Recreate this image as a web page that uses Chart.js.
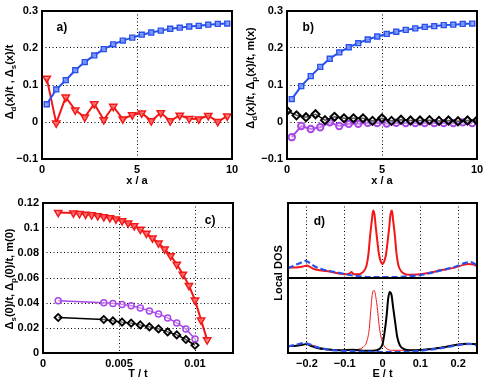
<!DOCTYPE html>
<html lang="en">
<head>
<meta charset="UTF-8">
<title>Gap profiles and local DOS</title>
<script src="https://cdn.jsdelivr.net/npm/chart.js"></script>
<style>
  body { margin: 0; background: #fff; }
  #fig { position: relative; width: 488px; height: 383px; overflow: hidden; }
  canvas { position: absolute; }
</style>
</head>
<body>
<div id="fig">
  <canvas id="pa" width="244" height="190" style="left:0;top:0"></canvas>
  <canvas id="pb" width="244" height="190" style="left:244px;top:0"></canvas>
  <canvas id="pc" width="244" height="193" style="left:0;top:190px"></canvas>
  <canvas id="pdTop" width="244" height="193" style="left:244px;top:190px"></canvas>
  <canvas id="pdBot" width="244" height="105" style="left:244px;top:278px"></canvas>
</div>
<script>
// ---- data: panels a) and b), x / a
const xHalf = [0.25, 0.75, 1.25, 1.75, 2.25, 2.75, 3.25, 3.75, 4.25, 4.75, 5.25, 5.75, 6.25, 6.75, 7.25, 7.75, 8.25, 8.75, 9.25, 9.75];
const xWhole = [0, 0.5, 1, 1.5, 2, 2.5, 3, 3.5, 4, 4.5, 5, 5.5, 6, 6.5, 7, 7.5, 8, 8.5, 9, 9.5, 10];
const aDeltaD = [0.048, 0.088, 0.113, 0.140, 0.162, 0.180, 0.197, 0.210, 0.220, 0.228, 0.236, 0.242, 0.247, 0.252, 0.255, 0.258, 0.260, 0.263, 0.265, 0.266];
const aDeltaS = [0.118, -0.003, 0.067, 0.032, 0.013, 0.049, 0.006, 0.042, 0.008, 0.019, 0.024, 0.003, 0.025, 0.003, 0.018, 0.009, 0.008, 0.017, 0.001, 0.016];
const bDeltaD = [0.062, 0.097, 0.124, 0.149, 0.171, 0.188, 0.202, 0.213, 0.223, 0.231, 0.238, 0.244, 0.249, 0.253, 0.257, 0.259, 0.262, 0.263, 0.265, 0.266];
const bDeltaP = [-0.041, -0.011, -0.019, -0.014, -0.001, -0.011, -0.005, -0.005, -0.002, -0.003, -0.004, -0.002, -0.003, -0.003, -0.003, -0.003, -0.003, -0.003, -0.001, -0.003];
const bMag = [0.030, 0.018, 0.013, 0.021, 0.005, 0.014, 0.010, 0.010, 0.010, 0.003, 0.010, 0.003, 0.006, 0.004, 0.004, 0.005, 0.003, 0.004, 0.002, 0.004, 0.004];
const xTicksAB = [0, 5, 10];
const yTicksAB = [-0.1, 0, 0.1, 0.2, 0.3];

// ---- data: panel c), T / t
const cTempS = [0.001, 0.002, 0.0024, 0.0028, 0.0032, 0.0036, 0.004, 0.0044, 0.0048, 0.0052, 0.0056, 0.006, 0.0064, 0.0068, 0.0072, 0.0076, 0.008, 0.0084, 0.0088, 0.0092, 0.0096, 0.01, 0.0104, 0.0108];
const cDeltaS = [0.1124, 0.1120, 0.1115, 0.1110, 0.1105, 0.1098, 0.1090, 0.1082, 0.1072, 0.1058, 0.1040, 0.1018, 0.0990, 0.0958, 0.0920, 0.0880, 0.0832, 0.0778, 0.0710, 0.0630, 0.0540, 0.0423, 0.0263, 0.0105];
const cTempPM = [0.001, 0.004, 0.0046, 0.0052, 0.0058, 0.0064, 0.0070, 0.0076, 0.0082, 0.0088, 0.0094, 0.0100];
const cDeltaP = [0.0418, 0.0402, 0.0397, 0.0389, 0.0378, 0.0361, 0.0337, 0.0313, 0.0281, 0.0241, 0.0193, 0.0112];
const cMag = [0.0284, 0.0268, 0.0257, 0.0247, 0.0239, 0.0225, 0.0209, 0.0193, 0.0169, 0.0145, 0.0108, 0.0062];
const xTicksC = [0, 0.005, 0.01];
const yTicksC = [0, 0.02, 0.04, 0.06, 0.08, 0.1, 0.12];

// ---- data: panel d), E / t (arbitrary DOS units)
const dTopRedE = [-0.25, -0.228, -0.211, -0.2, -0.193, -0.184, -0.166, -0.149, -0.131, -0.113, -0.1, -0.088, -0.082, -0.076, -0.065, -0.056, -0.049, -0.042, -0.037, -0.033, -0.028, -0.025, -0.021, -0.018, -0.013, -0.009, -0.004, 0, 0.004, 0.009, 0.013, 0.018, 0.021, 0.025, 0.028, 0.033, 0.037, 0.042, 0.049, 0.057, 0.068, 0.081, 0.1, 0.117, 0.135, 0.152, 0.17, 0.188, 0.202, 0.214, 0.227, 0.241, 0.25];
const dTopRed = [0.139, 0.139, 0.152, 0.166, 0.152, 0.126, 0.103, 0.094, 0.076, 0.058, 0.049, 0.058, 0.081, 0.049, 0.049, 0.063, 0.094, 0.170, 0.327, 0.552, 0.776, 0.901, 0.843, 0.686, 0.462, 0.305, 0.215, 0.184, 0.215, 0.305, 0.462, 0.686, 0.843, 0.901, 0.776, 0.552, 0.327, 0.170, 0.094, 0.058, 0.045, 0.045, 0.049, 0.063, 0.081, 0.103, 0.117, 0.135, 0.157, 0.175, 0.188, 0.179, 0.157];
const dTopBlueE = [-0.25, -0.233, -0.215, -0.204, -0.193, -0.18, -0.162, -0.14, -0.113, -0.087, -0.06, -0.025, 0, 0.037, 0.064, 0.1, 0.135, 0.17, 0.196, 0.219, 0.232, 0.245, 0.25];
const dTopBlue = [0.130, 0.166, 0.206, 0.229, 0.202, 0.157, 0.121, 0.094, 0.067, 0.040, 0.022, 0.013, 0.013, 0.013, 0.022, 0.040, 0.076, 0.121, 0.157, 0.202, 0.211, 0.184, 0.157];
const dBotBlackE = [-0.25, -0.228, -0.211, -0.2, -0.191, -0.175, -0.149, -0.113, -0.078, -0.051, -0.025, -0.007, 0, 0.005, 0.011, 0.015, 0.019, 0.024, 0.028, 0.034, 0.039, 0.046, 0.057, 0.073, 0.1, 0.135, 0.17, 0.196, 0.223, 0.241, 0.25];
const dBotBlack = [0.089, 0.098, 0.111, 0.120, 0.098, 0.071, 0.049, 0.036, 0.044, 0.031, 0.031, 0.058, 0.116, 0.258, 0.502, 0.724, 0.813, 0.769, 0.613, 0.391, 0.213, 0.102, 0.053, 0.036, 0.040, 0.058, 0.084, 0.111, 0.124, 0.120, 0.116];
const dBotRedE = [-0.25, -0.2, -0.15, -0.1, -0.065, -0.051, -0.042, -0.035, -0.031, -0.027, -0.022, -0.018, -0.013, -0.009, -0.004, 0.002, 0.011, 0.024, 0.05, 0.1, 0.15, 0.2, 0.25];
const dBotRed = [0.085, 0.115, 0.050, 0.035, 0.049, 0.080, 0.147, 0.324, 0.569, 0.782, 0.836, 0.756, 0.569, 0.369, 0.213, 0.116, 0.058, 0.036, 0.036, 0.040, 0.070, 0.110, 0.115];
const dBotBlueE = [-0.25, -0.228, -0.206, -0.193, -0.175, -0.149, -0.113, -0.078, -0.042, 0, 0.046, 0.081, 0.117, 0.152, 0.188, 0.214, 0.232, 0.25];
const dBotBlue = [0.089, 0.111, 0.133, 0.116, 0.080, 0.049, 0.031, 0.022, 0.018, 0.013, 0.013, 0.022, 0.040, 0.062, 0.093, 0.116, 0.120, 0.102];
const xTicksD = [-0.2, -0.1, 0, 0.1, 0.2];

const FONT = "'Liberation Sans', Arial, sans-serif";
const tickFont = { family: FONT, size: 11, weight: 'bold' };
const RED = '#f21818', BLUE = '#2850ec', PURPLE = '#a846e6', BLACK = '#000';
Chart.defaults.font.family = FONT;

function fmt(v) { return String(+v.toFixed(4)).replace('-', '\u2212'); }
function pts(xs, ys) { return xs.map((x, i) => ({ x: x, y: ys[i] })); }

// rotated y title with subscripts: parts = [[text, isSub], ...]
function drawRich(ctx, parts, cx, cy) {
  const main = 'bold 11px ' + FONT, sub = 'bold 8px ' + FONT;
  ctx.save();
  ctx.translate(cx, cy);
  ctx.rotate(-Math.PI / 2);
  ctx.fillStyle = '#000';
  ctx.textBaseline = 'middle';
  ctx.textAlign = 'left';
  let total = 0;
  parts.forEach(p => { ctx.font = p[1] ? sub : main; total += ctx.measureText(p[0]).width; });
  let x = -total / 2;
  parts.forEach(p => {
    ctx.font = p[1] ? sub : main;
    ctx.fillText(p[0], x, p[1] ? 4 : 0);
    x += ctx.measureText(p[0]).width;
  });
  ctx.restore();
}

const panelDeco = {
  id: 'panelDeco',
  afterDraw(chart, args, o) {
    const { ctx, chartArea: a, scales } = chart;
    ctx.save();
    if (o.ytitle) drawRich(ctx, o.ytitle, o.ytitleX, o.ytitleY);
    if (o.label) {
      ctx.font = 'bold 12px ' + FONT;
      ctx.fillStyle = '#000';
      ctx.textAlign = 'center';
      ctx.textBaseline = 'middle';
      ctx.fillText(o.label, scales.x.getPixelForValue(o.labelAt[0]), scales.y.getPixelForValue(o.labelAt[1]));
    }
    ctx.lineWidth = 2;
    ctx.strokeStyle = '#000';
    ctx.strokeRect(a.left, a.top, a.right - a.left, a.bottom - a.top);
    ctx.restore();
  }
};

function axis(s, dir) {
  return {
    type: 'linear', min: s.min, max: s.max,
    afterBuildTicks: sc => { sc.ticks = (s.ticks || []).map(v => ({ value: v })); },
    afterFit: dir === 'x' ? (sc => { sc.height = s.size; }) : (sc => { sc.width = s.size; }),
    grid: { display: s.grid !== false, color: '#000', lineWidth: 1, drawTicks: false },
    border: { display: false, dash: [1, 2.5] },
    ticks: {
      display: s.labels !== false, padding: 4,
      color: '#000', font: tickFont, callback: fmt, maxRotation: 0, autoSkip: false
    },
    title: s.title
      ? { display: true, text: s.title, color: '#000', font: tickFont, padding: { top: 0, bottom: 2 } }
      : { display: false }
  };
}

function makeChart(id, c) {
  return new Chart(document.getElementById(id), {
    type: 'line',
    data: { datasets: c.datasets },
    plugins: [panelDeco],
    options: {
      responsive: false, animation: false, devicePixelRatio: 1,
      layout: { padding: c.padding },
      plugins: { legend: { display: false }, tooltip: { enabled: false }, panelDeco: c.deco },
      scales: { x: axis(c.x, 'x'), y: axis(c.y, 'y') }
    }
  });
}

function marked(xs, ys, color, style, r, extra) {
  return Object.assign({
    data: pts(xs, ys), borderColor: color, borderWidth: 2, tension: 0, fill: false,
    pointStyle: style, pointRadius: r, pointBorderColor: color, pointBorderWidth: 1.5,
    pointBackgroundColor: 'rgba(255,255,255,0.35)'
  }, extra || {});
}

function curve(xs, ys, color, width, extra) {
  return Object.assign({
    data: pts(xs, ys), borderColor: color, borderWidth: width, pointRadius: 0,
    fill: false, cubicInterpolationMode: 'monotone'
  }, extra || {});
}

const squareFill = { pointBackgroundColor: 'rgba(130,155,255,0.85)', pointBorderWidth: 1.4 };
const downTri = { pointRotation: 180, pointBackgroundColor: 'rgba(255,120,120,0.75)' };

// a)
makeChart('pa', {
  padding: { left: 0, top: 11, right: 12, bottom: 0 },
  x: { min: 0, max: 10, ticks: xTicksAB, size: 31, title: 'x / a' },
  y: { min: -0.1, max: 0.3, ticks: yTicksAB, size: 42 },
  deco: {
    ytitle: [['\u0394', 0], ['d', 1], ['(x)/t , \u0394', 0], ['s', 1], ['(x)/t', 0]],
    ytitleX: 10, ytitleY: 82, label: 'a)', labelAt: [1.05, 0.255]
  },
  datasets: [
    marked(xHalf, aDeltaD, BLUE, 'rect', 3.5, Object.assign({ order: 1 }, squareFill)),
    marked(xHalf, aDeltaS, RED, 'triangle', 4.2, Object.assign({ order: 2 }, downTri))
  ]
});

// b)
makeChart('pb', {
  padding: { left: 0, top: 11, right: 11, bottom: 0 },
  x: { min: 0, max: 10, ticks: xTicksAB, size: 31, title: 'x / a' },
  y: { min: -0.1, max: 0.3, ticks: yTicksAB, size: 43 },
  deco: {
    ytitle: [['\u0394', 0], ['d', 1], ['(x)/t, \u0394', 0], ['p', 1], ['(x)/t, m(x)', 0]],
    ytitleX: 7, ytitleY: 78, label: 'b)', labelAt: [1.12, 0.256]
  },
  datasets: [
    marked(xHalf, bDeltaD, BLUE, 'rect', 3.5, Object.assign({ order: 1 }, squareFill)),
    marked(xWhole, bMag, BLACK, 'rectRot', 4, { order: 2, borderWidth: 1.5, pointBorderWidth: 2 }),
    marked(xHalf, bDeltaP, PURPLE, 'circle', 3.2, { order: 3, pointBorderWidth: 2 })
  ]
});

// c)
makeChart('pc', {
  padding: { left: 0, top: 13, right: 11, bottom: 0 },
  x: { min: 0, max: 0.0125, ticks: xTicksC, size: 30, title: 'T / t' },
  y: { min: 0, max: 0.12, ticks: yTicksC, size: 43 },
  deco: {
    ytitle: [['\u0394', 0], ['s', 1], ['(0)/t, \u0394', 0], ['p', 1], ['(0)/t, m(0)', 0]],
    ytitleX: 10, ytitleY: 89, label: 'c)', labelAt: [0.011, 0.106]
  },
  datasets: [
    marked(cTempS, cDeltaS, RED, 'triangle', 4.2, Object.assign({ order: 1 }, downTri)),
    marked(cTempPM, cDeltaP, PURPLE, 'circle', 3, { order: 2, borderWidth: 1.5 }),
    marked(cTempPM, cMag, BLACK, 'rectRot', 3.6, { order: 3, borderWidth: 1.5, pointBorderWidth: 1.8 })
  ]
});

// d) upper half
makeChart('pdTop', {
  padding: { left: 0, top: 13, right: 11, bottom: 105 },
  x: { min: -0.25, max: 0.25, ticks: xTicksD, size: 0, labels: false },
  y: { min: 0, max: 1, size: 44, labels: false, grid: false },
  deco: {
    ytitle: [['Local DOS', 0]], ytitleX: 35, ytitleY: 83,
    label: 'd)', labelAt: [-0.167, 0.75]
  },
  datasets: [
    curve(dTopBlueE, dTopBlue, BLUE, 2.2, { order: 1, borderDash: [6, 3] }),
    curve(dTopRedE, dTopRed, RED, 2, { order: 2 })
  ]
});

// d) lower half
makeChart('pdBot', {
  padding: { left: 0, top: 0, right: 11, bottom: 0 },
  x: { min: -0.25, max: 0.25, ticks: xTicksD, size: 30, title: 'E / t' },
  y: { min: 0, max: 1, size: 44, labels: false, grid: false },
  deco: {},
  datasets: [
    curve(dBotBlueE, dBotBlue, BLUE, 2.2, { order: 1, borderDash: [6, 3] }),
    curve(dBotBlackE, dBotBlack, BLACK, 2, { order: 2 }),
    curve(dBotRedE, dBotRed, RED, 1, { order: 3 })
  ]
});
</script>
</body>
</html>
